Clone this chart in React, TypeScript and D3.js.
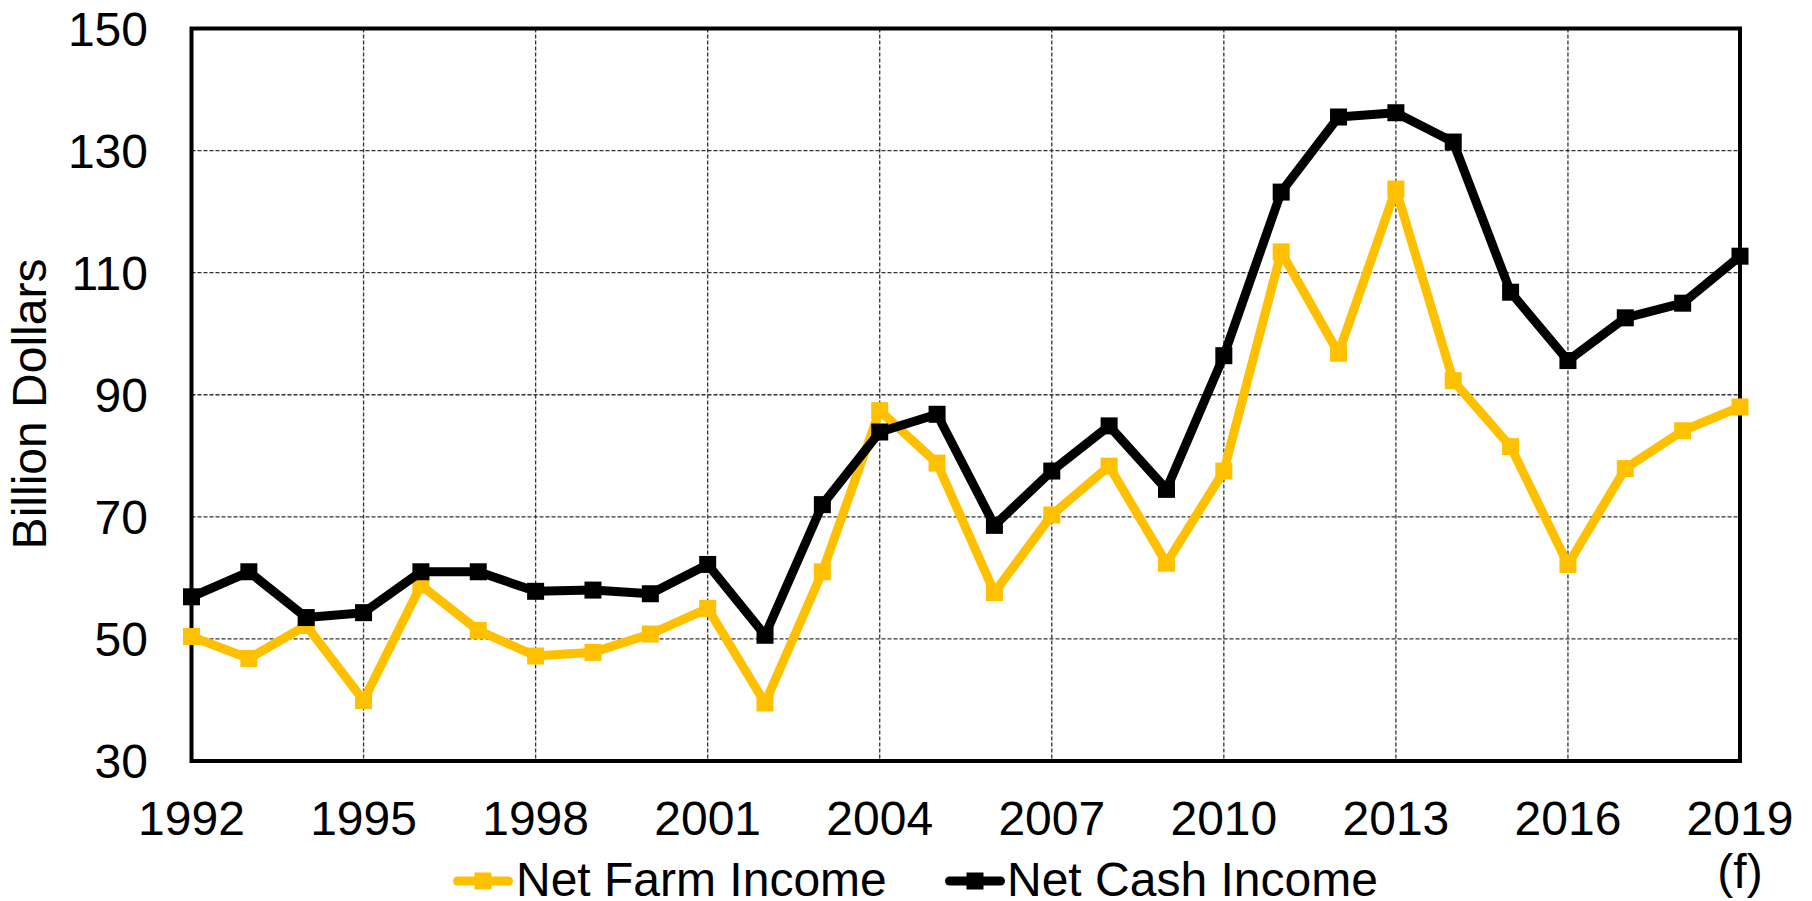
import React, { useEffect, useRef } from "react";
import * as d3 from "d3";

const years: number[] = d3.range(1992, 2020);
const netFarmIncome: number[] = [
  50.4, 46.8, 52.2, 39.9, 58.8, 51.4, 47.2, 47.8, 50.8, 55.0,
  39.5, 61.0, 87.4, 78.8, 57.6, 70.3, 78.3, 62.4, 77.5, 113.4,
  96.8, 123.7, 92.3, 81.5, 62.2, 77.9, 84.1, 88.0,
];
const netCashIncome: number[] = [
  56.9, 61.0, 53.5, 54.3, 61.0, 61.0, 57.8, 58.0, 57.4, 62.2,
  50.6, 72.0, 83.9, 86.8, 68.6, 77.5, 84.9, 74.5, 96.4, 123.2,
  135.5, 136.2, 131.4, 106.8, 95.6, 102.6, 105.0, 112.7,
];
const yTicks: number[] = [30, 50, 70, 90, 110, 130, 150];
const xTickYears: number[] = [1992, 1995, 1998, 2001, 2004, 2007, 2010, 2013, 2016, 2019];
const seriesNames: string[] = ["Net Farm Income", "Net Cash Income"];
const seriesColors: string[] = ["#FFC000", "#000000"];

const W = 1812;
const H = 901;
const FONT = "'Liberation Sans', Arial, sans-serif";
const FS = 48;

export default function App() {
  const ref = useRef<SVGSVGElement | null>(null);

  useEffect(() => {
    const svg = d3.select(ref.current);
    svg.selectAll("*").remove();

    const left = 191.5, right = 1740, top = 28.5, bottom = 761;
    const x = d3.scaleLinear().domain([1992, 2019]).range([left, right]);
    const y = d3.scaleLinear().domain([30, 150]).range([bottom, top]);

    // gridlines
    const grid = svg.append("g");
    grid.selectAll("line.h")
      .data(yTicks.filter((t) => t > 30 && t < 150))
      .enter()
      .append("line")
      .attr("x1", left).attr("x2", right)
      .attr("y1", (d) => y(d)).attr("y2", (d) => y(d))
      .attr("stroke", "#333").attr("stroke-width", 1.3)
      .attr("stroke-dasharray", "4,2");
    grid.selectAll("line.v")
      .data(xTickYears.filter((t) => t > 1992 && t < 2019))
      .enter()
      .append("line")
      .attr("y1", top).attr("y2", bottom)
      .attr("x1", (d) => x(d)).attr("x2", (d) => x(d))
      .attr("stroke", "#333").attr("stroke-width", 1.3)
      .attr("stroke-dasharray", "4,2");

    // frame
    svg.append("rect")
      .attr("x", left).attr("y", top)
      .attr("width", right - left).attr("height", bottom - top)
      .attr("fill", "none").attr("stroke", "#000").attr("stroke-width", 4);

    // y tick labels
    svg.append("g").selectAll("text")
      .data(yTicks).enter().append("text")
      .attr("x", 148).attr("y", (d) => y(d) + 17)
      .attr("text-anchor", "end")
      .attr("font-family", FONT).attr("font-size", FS)
      .text((d) => String(d));

    // x tick labels
    svg.append("g").selectAll("text")
      .data(xTickYears).enter().append("text")
      .attr("x", (d) => x(d)).attr("y", 835)
      .attr("text-anchor", "middle")
      .attr("font-family", FONT).attr("font-size", FS)
      .text((d) => String(d));
    svg.append("text")
      .attr("x", x(2019)).attr("y", 888)
      .attr("text-anchor", "middle")
      .attr("font-family", FONT).attr("font-size", FS)
      .text("(f)");

    // y axis title
    svg.append("text")
      .attr("transform", "translate(46,404) rotate(-90)")
      .attr("text-anchor", "middle")
      .attr("font-family", FONT).attr("font-size", FS)
      .text("Billion Dollars");

    // series
    const allSeries = [netFarmIncome, netCashIncome];
    const line = d3.line<number>()
      .x((_, i) => x(years[i]))
      .y((d) => y(d));
    const ms = 17;
    allSeries.forEach((vals, si) => {
      const g = svg.append("g");
      g.append("path")
        .attr("d", line(vals) || "")
        .attr("fill", "none")
        .attr("stroke", seriesColors[si])
        .attr("stroke-width", 9)
        .attr("stroke-linejoin", "round")
        .attr("stroke-linecap", "round");
      g.selectAll("rect")
        .data(vals).enter().append("rect")
        .attr("x", (_, i) => x(years[i]) - ms / 2)
        .attr("y", (d) => y(d) - ms / 2)
        .attr("width", ms).attr("height", ms)
        .attr("fill", seriesColors[si]);
    });

    // legend
    const legendItems = [
      { x0: 453, x1: 513, tx: 516 },
      { x0: 945, x1: 1005, tx: 1007 },
    ];
    const ly = 881;
    legendItems.forEach((it, si) => {
      const g = svg.append("g");
      g.append("line")
        .attr("x1", it.x0 + 4.5).attr("x2", it.x1 - 4.5)
        .attr("y1", ly).attr("y2", ly)
        .attr("stroke", seriesColors[si]).attr("stroke-width", 9)
        .attr("stroke-linecap", "round");
      g.append("rect")
        .attr("x", (it.x0 + it.x1) / 2 - 8.5).attr("y", ly - 8.5)
        .attr("width", 17).attr("height", 17)
        .attr("fill", seriesColors[si]);
      g.append("text")
        .attr("x", it.tx).attr("y", 896)
        .attr("font-family", FONT).attr("font-size", FS)
        .text(seriesNames[si]);
    });
  }, []);

  return (
    <svg
      ref={ref}
      width={W}
      height={H}
      style={{ position: "fixed", left: 0, top: 0, background: "#fff" }}
    />
  );
}
